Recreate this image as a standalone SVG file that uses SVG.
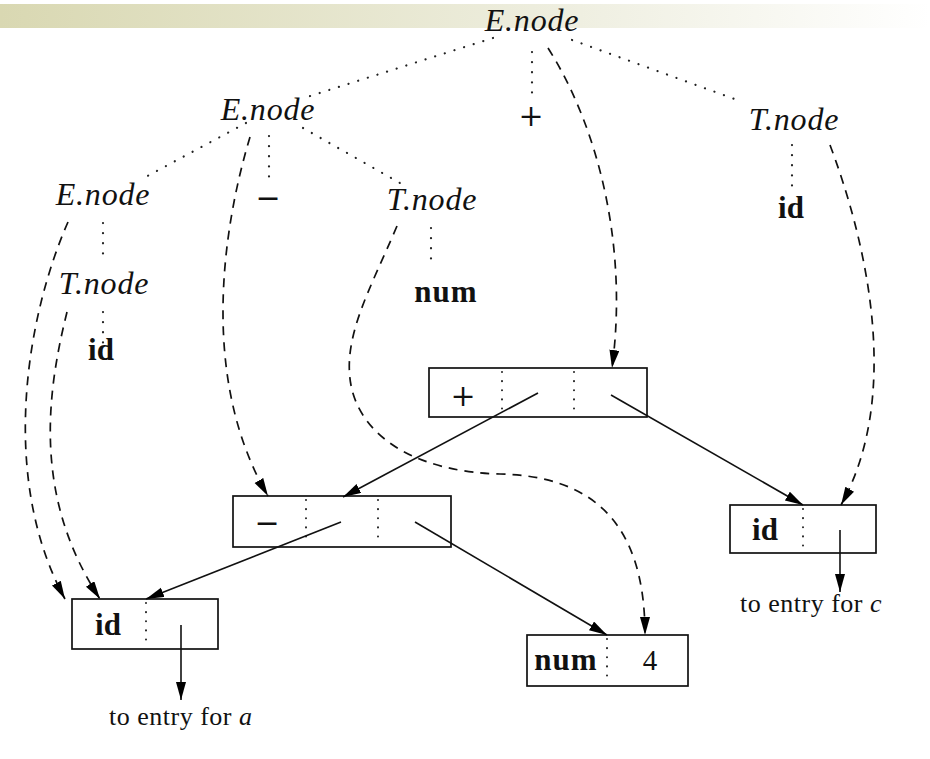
<svg xmlns="http://www.w3.org/2000/svg" width="930" height="759" viewBox="0 0 930 759">
<defs>
<linearGradient id="band" x1="0" y1="0" x2="1" y2="0">
<stop offset="0" stop-color="#d9d8b2"/>
<stop offset="0.6" stop-color="#eeeedf"/>
<stop offset="1" stop-color="#ffffff"/>
</linearGradient>
<marker id="ah" markerUnits="userSpaceOnUse" markerWidth="20" markerHeight="12" refX="18" refY="5" orient="auto">
<path d="M0,0 L18,5 L0,10 z" fill="#000"/>
</marker>
</defs>
<style>
.it{font-family:"Liberation Serif","Times New Roman",serif;font-style:italic;font-size:32px;letter-spacing:0.8px;fill:#111}
.bf{font-family:"Liberation Serif","Times New Roman",serif;font-weight:bold;font-size:31px;fill:#111}
.rm{font-family:"Liberation Serif","Times New Roman",serif;font-size:29px;fill:#111}
.op{font-family:"DejaVu Serif","Liberation Serif",serif;font-size:30px;fill:#111}
.cap{font-family:"Liberation Serif","Times New Roman",serif;font-size:26px;letter-spacing:0.5px;fill:#111}
.dot{fill:none;stroke:#222;stroke-width:2.2;stroke-linecap:round;stroke-dasharray:0.1 10}
.dsh{fill:none;stroke:#111;stroke-width:1.7;stroke-dasharray:9 7;marker-end:url(#ah)}
.sol{fill:none;stroke:#111;stroke-width:1.6;marker-end:url(#ah)}
.box{fill:#fff;stroke:#111;stroke-width:1.7}
.div{fill:none;stroke:#222;stroke-width:2;stroke-linecap:round;stroke-dasharray:0.1 9}
</style>
<rect x="0" y="4" width="930" height="24" fill="url(#band)"/>

<g id="tree-labels">
<g id="n-E-top"><text class="it" x="532" y="31" text-anchor="middle">E.node</text></g>
<g id="n-E-2"><text class="it" x="268" y="120" text-anchor="middle">E.node</text></g>
<g id="n-plus"><text class="op" x="531" y="126" text-anchor="middle">+</text></g>
<g id="n-T-right"><text class="it" x="794" y="130" text-anchor="middle">T.node</text></g>
<g id="n-E-3"><text class="it" x="103" y="205" text-anchor="middle">E.node</text></g>
<g id="n-minus"><text class="op" x="268" y="208" text-anchor="middle">−</text></g>
<g id="n-T-mid"><text class="it" x="432" y="210" text-anchor="middle">T.node</text></g>
<g id="n-id-right"><text class="bf" x="791" y="218" text-anchor="middle">id</text></g>
<g id="n-T-left"><text class="it" x="104" y="294" text-anchor="middle">T.node</text></g>
<g id="n-num"><text class="bf" x="446" y="302" text-anchor="middle" letter-spacing="1">num</text></g>
<g id="n-id-left"><text class="bf" x="101" y="360" text-anchor="middle">id</text></g>
</g>

<g id="box-plus">
<rect class="box" x="429" y="368" width="218" height="49"/>
<line class="div" x1="502" y1="372" x2="502" y2="414"/>
<line class="div" x1="574" y1="372" x2="574" y2="414"/>
<text class="op" x="463" y="406" text-anchor="middle">+</text>
</g>
<g id="box-minus">
<rect class="box" x="233" y="496" width="218" height="51"/>
<line class="div" x1="306" y1="500" x2="306" y2="544"/>
<line class="div" x1="378" y1="500" x2="378" y2="544"/>
<text class="op" x="267" y="533" text-anchor="middle">−</text>
</g>
<g id="box-id-a">
<rect class="box" x="72" y="599" width="146" height="50"/>
<line class="div" x1="146" y1="603" x2="146" y2="646"/>
<text class="bf" x="108" y="635" text-anchor="middle">id</text>
</g>
<g id="box-num">
<rect class="box" x="527" y="635" width="161" height="51"/>
<line class="div" x1="607" y1="639" x2="607" y2="683"/>
<text class="bf" x="566" y="670" text-anchor="middle" letter-spacing="1">num</text>
<text class="rm" x="650" y="670" text-anchor="middle">4</text>
</g>
<g id="box-id-c">
<rect class="box" x="730" y="505" width="146" height="48"/>
<line class="div" x1="803" y1="509" x2="803" y2="550"/>
<text class="bf" x="765" y="540" text-anchor="middle">id</text>
</g>
<g id="lbl-a"><text class="cap" x="109" y="725">to entry for <tspan font-style="italic">a</tspan></text></g>
<g id="lbl-c"><text class="cap" x="740" y="612">to entry for <tspan font-style="italic">c</tspan></text></g>

<g id="connectors">
<line class="dot" x1="493" y1="38" x2="307" y2="97"/>
<line class="dot" x1="532" y1="52" x2="532" y2="97"/>
<line class="dot" x1="572" y1="40" x2="740" y2="101"/>
<line class="dot" x1="246" y1="123" x2="140" y2="180"/>
<line class="dot" x1="269" y1="136" x2="269" y2="178"/>
<line class="dot" x1="303" y1="128" x2="400" y2="183"/>
<line class="dot" x1="103" y1="223" x2="103" y2="263"/>
<line class="dot" x1="103" y1="312" x2="103" y2="350"/>
<line class="dot" x1="431" y1="228" x2="431" y2="267"/>
<line class="dot" x1="792" y1="145" x2="792" y2="186"/>

<path class="dsh" d="M548,48 C600,130 628,250 612,368"/>
<path class="dsh" d="M250,137 C222,230 200,380 268,496"/>
<path class="dsh" d="M68,222 C25,320 0,480 65,599"/>
<path class="dsh" d="M67,312 C45,400 35,500 100,599"/>
<path class="dsh" d="M397,226 C370,290 340,340 352,390 C365,440 420,472 500,474 C590,476 645,520 645,635"/>
<path class="dsh" d="M830,145 C862,230 905,390 841,505"/>

<line class="sol" x1="538" y1="393" x2="343" y2="497"/>
<line class="sol" x1="611" y1="395" x2="803" y2="505"/>
<line class="sol" x1="341" y1="522" x2="146" y2="599"/>
<line class="sol" x1="415" y1="522" x2="607" y2="635"/>
<line class="sol" x1="181" y1="625" x2="181" y2="700"/>
<line class="sol" x1="840" y1="530" x2="840" y2="592"/>
</g>
</svg>
